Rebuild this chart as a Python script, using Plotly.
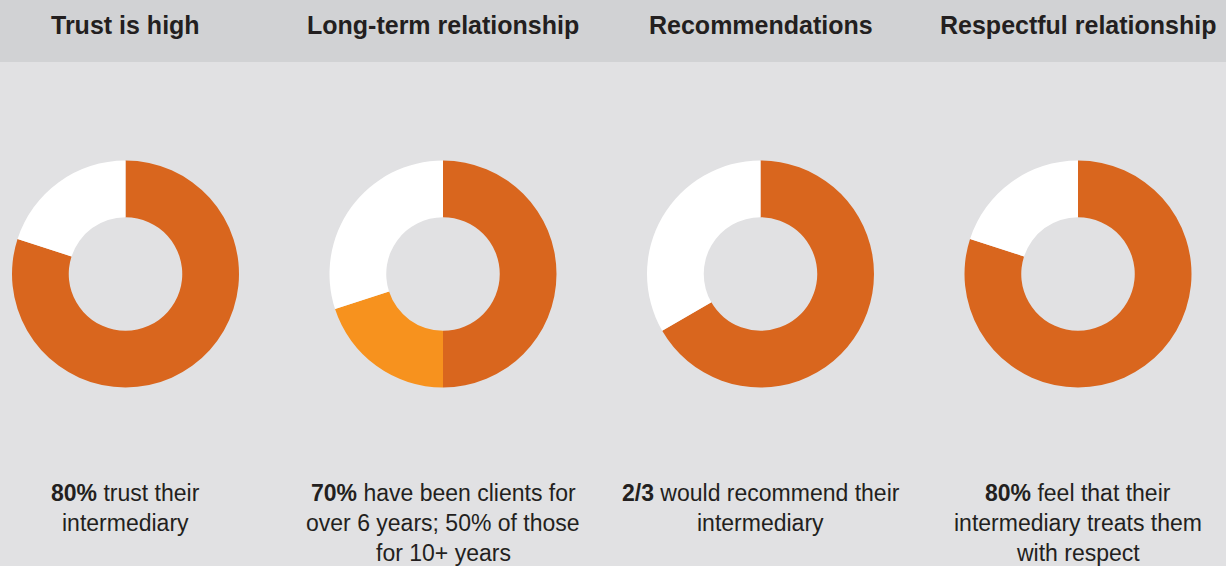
import plotly.graph_objects as go

# Panel headings
titles = ["Trust is high", "Long-term relationship", "Recommendations", "Respectful relationship"]

# Donut shares (clockwise from 12 o'clock): main share, secondary share, remainder
main_share = [80, 50, 66.67, 80]
second_share = [0, 20, 0, 0]
rest_share = [20, 30, 33.33, 20]

# Caption lines under each donut
captions = [
    ["<b>80%</b> trust their", "intermediary"],
    ["<b>70%</b> have been clients for", "over 6 years; 50% of those", "for 10+ years"],
    ["<b>2/3</b> would recommend their", "intermediary"],
    ["<b>80%</b> feel that their", "intermediary treats them", "with respect"],
]

W, H = 1226, 566
centers_x = [125.5, 443, 760.5, 1078]
center_y = 274
radius = 113.5
header_h = 62

dark = "#d9661e"
light = "#f7921e"
white = "#ffffff"
text_col = "#231f20"
font_family = "Liberation Sans, Arial, Helvetica, sans-serif"

fig = go.Figure()

for i, cx in enumerate(centers_x):
    fig.add_trace(go.Pie(
        values=[main_share[i], second_share[i], rest_share[i]],
        labels=["a", "b", "c"],
        marker=dict(colors=[dark, light, white], line=dict(width=0)),
        hole=0.5,
        sort=False,
        direction="clockwise",
        rotation=0,
        textinfo="none",
        hoverinfo="skip",
        showlegend=False,
        domain=dict(
            x=[(cx - radius) / W, (cx + radius) / W],
            y=[1 - (center_y + radius) / H, 1 - (center_y - radius) / H],
        ),
    ))

annotations = []
for i, cx in enumerate(centers_x):
    annotations.append(dict(
        x=cx / W, y=1 - 25 / H, xref="paper", yref="paper",
        xanchor="center", yanchor="middle", showarrow=False,
        text=f"<b>{titles[i]}</b>",
        font=dict(family=font_family, size=25, color=text_col),
    ))
    for j, line in enumerate(captions[i]):
        annotations.append(dict(
            x=cx / W, y=1 - (493 + 30 * j) / H, xref="paper", yref="paper",
            xanchor="center", yanchor="middle", showarrow=False,
            text=line,
            font=dict(family=font_family, size=23, color=text_col),
        ))

fig.update_layout(
    width=W, height=H,
    margin=dict(l=0, r=0, t=0, b=0),
    paper_bgcolor="#e1e1e3",
    plot_bgcolor="#e1e1e3",
    shapes=[dict(
        type="rect", xref="paper", yref="paper",
        x0=0, x1=1, y0=1 - header_h / H, y1=1,
        fillcolor="#d1d2d4", line=dict(width=0), layer="below",
    )],
    annotations=annotations,
)

fig.write_html("out.html")
